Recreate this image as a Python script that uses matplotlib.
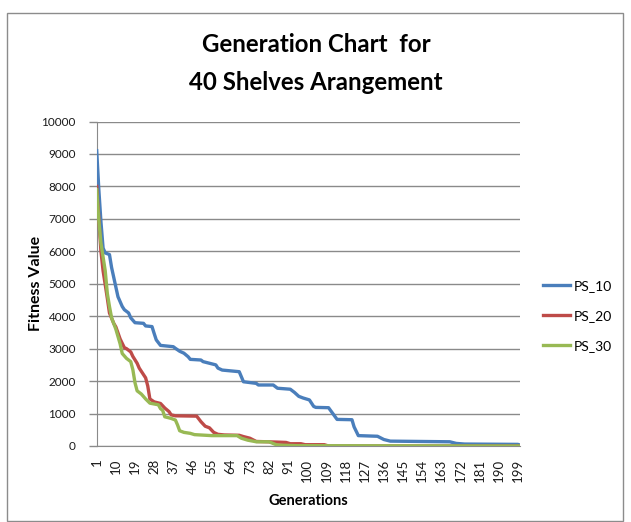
import matplotlib
matplotlib.use("Agg")
import matplotlib.pyplot as plt
from matplotlib.patches import Rectangle

# ---- data (generation, fitness value) breakpoints ----
ps10_gen = [1, 2, 3, 4, 5, 7, 8, 10, 11, 13, 14, 16, 17, 19, 23, 24, 27, 28, 29, 31, 37, 38, 40, 42,
            44, 45, 50, 51, 54, 57, 58, 60, 68, 70, 76, 77, 84, 86, 92, 94, 96, 98, 101, 103, 104,
            110, 112, 114, 121, 122, 124, 133, 136, 139, 167, 170, 174, 199, 200]
ps10_val = [9100, 7900, 6900, 6100, 5950, 5900, 5500, 4900, 4600, 4300, 4200, 4100, 3950, 3800, 3780,
            3700, 3680, 3470, 3270, 3100, 3060, 3010, 2920, 2860, 2750, 2670, 2650, 2600, 2550, 2500,
            2400, 2340, 2290, 1980, 1930, 1880, 1880, 1780, 1750, 1650, 1530, 1480, 1420, 1220, 1190,
            1180, 1000, 820, 810, 590, 320, 300, 200, 150, 130, 80, 60, 50, 30]

ps20_gen = [1, 2, 3, 4, 6, 7, 9, 10, 12, 14, 15, 17, 18, 20, 21, 23, 24, 25, 26, 28, 31, 33, 35, 36,
            38, 48, 50, 52, 54, 56, 58, 61, 68, 70, 73, 76, 86, 90, 92, 97, 99, 108, 110, 200]
ps20_val = [8000, 7000, 6000, 5400, 4550, 4100, 3780, 3670, 3300, 3030, 3000, 2900, 2760, 2550, 2400,
            2200, 2100, 1850, 1450, 1360, 1310, 1170, 1060, 960, 930, 920, 750, 610, 560, 420, 360,
            340, 330, 290, 240, 140, 120, 110, 70, 70, 40, 40, 0, 0]

ps30_gen = [1, 2, 3, 5, 6, 7, 8, 10, 12, 13, 15, 17, 18, 19, 20, 22, 24, 26, 30, 31, 32, 33, 36, 38,
            39, 40, 42, 45, 47, 55, 67, 69, 72, 76, 82, 85, 86, 95, 200]
ps30_val = [7900, 6950, 6250, 5400, 4700, 4300, 3950, 3600, 3150, 2850, 2700, 2600, 2350, 1950, 1700,
            1600, 1450, 1320, 1270, 1150, 1100, 900, 850, 800, 650, 470, 420, 390, 350, 320, 320, 240,
            180, 130, 130, 50, 30, 10, 0]

series_names = ["PS_10", "PS_20", "PS_30"]
series_colors = ["#4A7EBB", "#BE4B48", "#98B954"]
x_tick_labels = list(range(1, 201, 9))
y_ticks = list(range(0, 10001, 1000))

title_text = "Generation Chart  for\n40 Shelves Arangement"
x_label = "Generations"
y_label = "Fitness Value"

plt.rcParams["font.family"] = ["Lato", "DejaVu Sans"]

W, H = 631, 522
fig = plt.figure(figsize=(W / 100, H / 100), dpi=100)
fig.patch.set_facecolor("white")

# chart border
fig.add_artist(Rectangle((7 / W, 1 - 521 / H), (623 - 7) / W, (521 - 13) / H,
                         transform=fig.transFigure, fill=False, edgecolor="#8c8c8c", linewidth=1.0))

ax = fig.add_axes([96.7 / W, 1 - 446 / H, (520 - 96.7) / W, (446 - 121.5) / H])

gens = [ps10_gen, ps20_gen, ps30_gen]
vals = [ps10_val, ps20_val, ps30_val]
handles = []
for g, v, name, c in zip(gens, vals, series_names, series_colors):
    h, = ax.plot(g, v, color=c, linewidth=2.4, label=name, solid_joinstyle="round", zorder=3)
    handles.append(h)

ax.set_xlim(1, 200)
ax.set_ylim(0, 10000)
ax.set_yticks(y_ticks)
ax.set_yticklabels([str(t) for t in y_ticks], fontsize=8.5, color="#1a1a1a")
ax.set_xticks(x_tick_labels)
ax.set_xticklabels([str(t) for t in x_tick_labels], rotation=90, fontsize=9.5, color="#1a1a1a")
ax.grid(axis="y", color="#8a8a8a", linewidth=1.0, zorder=0)
ax.set_axisbelow(True)
for s in ["top", "right"]:
    ax.spines[s].set_visible(False)
ax.spines["left"].set_color("#8a8a8a")
ax.spines["bottom"].set_color("#8a8a8a")
ax.tick_params(axis="y", direction="out", length=6, width=1, color="#8a8a8a", pad=9)
ax.tick_params(axis="x", direction="out", length=0, pad=9)

ax.set_xlabel(x_label, fontsize=10.5, fontweight="bold", labelpad=9)
ax.set_ylabel(y_label, fontsize=11.5, fontweight="bold")
ax.yaxis.set_label_coords(-0.127, 0.5)

fig.text(316 / W, 1 - 63.5 / H, title_text, ha="center", va="center", fontsize=17.3,
         fontweight="bold", linespacing=1.75)

fig.legend(handles=handles, labels=series_names, loc="center left",
           bbox_to_anchor=(530 / W, 1 - 316 / H), frameon=False, fontsize=10,
           handlelength=2.0, handletextpad=0.25, labelspacing=1.3)

fig.savefig("out.png", dpi=100, facecolor="white")
